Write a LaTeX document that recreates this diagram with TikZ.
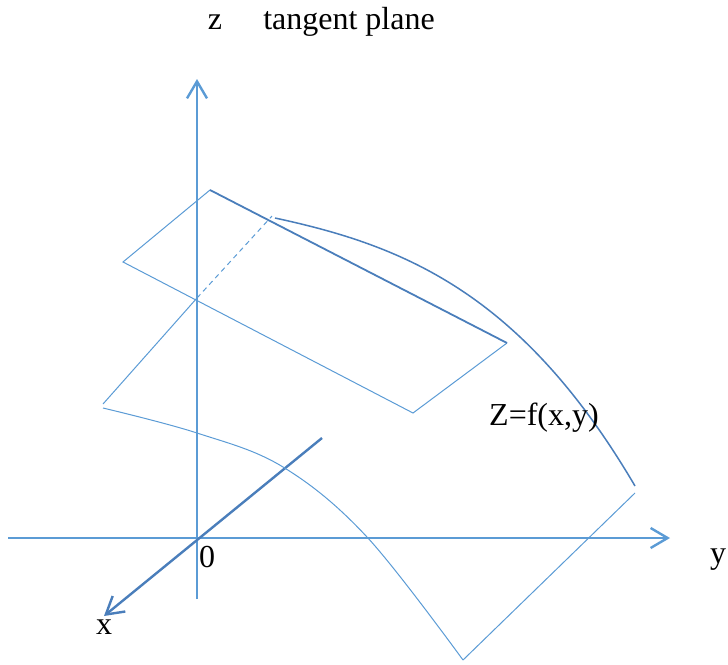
\documentclass[tikz,border=0pt]{standalone}
\usepackage{fontspec}
\setmainfont{Liberation Serif}
\usepackage{xcolor}
\usepackage{tikz}
\usetikzlibrary{arrows.meta, positioning}

\definecolor{axisblue}{HTML}{5B9BD5}
\definecolor{edgeblue}{HTML}{4A7EBB}

\begin{document}
\begin{tikzpicture}[
  x=1pt, y=-1pt,
  axis/.style={draw=axisblue, line width=2.4pt, -{Straight Barb[length=17pt, width=20pt, line width=2.4pt]}},
  xaxis/.style={draw=edgeblue, line width=2.4pt, -{Straight Barb[length=17pt, width=20pt, line width=2.4pt]}},
  thin/.style={draw=axisblue, line width=1pt},
  rim/.style={draw=edgeblue, line width=1.8pt},
  lbl/.style={font=\fontsize{32}{38}\selectfont, inner sep=0pt},
]
  \useasboundingbox (0,0) rectangle (728,664);

  % axes
  \coordinate (O) at (197,538);
  \coordinate (zlow) at (197,599);
  \coordinate (ztop) at (197,79);
  \coordinate (yleft) at (8,538);
  \coordinate (yend) at (670,538);
  \coordinate (xback) at (322,438);
  \coordinate (xend) at (104,616);

  \draw[axis] (zlow) -- (ztop);
  \draw[axis] (yleft) -- (yend);
  \draw[xaxis] (xback) -- (xend);

  % tangent plane
  \coordinate (ptop) at (210,190);
  \coordinate (pleft) at (123,262);
  \coordinate (pbot) at (413,413);
  \coordinate (pright) at (507,343);
  \draw[thin] (ptop) -- (pleft) -- (pbot) -- (pright);
  \draw[rim] (ptop) -- (pright);

  % surface
  \coordinate (sfar) at (272,216);
  \coordinate (scut) at (197,298);
  \coordinate (sleft) at (103,404);
  \coordinate (stop) at (275,218);
  \coordinate (sright) at (635,486);
  \coordinate (sright2) at (635,493);
  \coordinate (sbot) at (463,660);
  \draw[thin, dashed, dash pattern=on 5pt off 4pt] (scut) -- (sfar);
  \draw[thin] (sleft) -- (scut);
  \draw[rim, line width=1.5pt] (stop) .. controls (400,245) and (520,290) .. (sright);
  \draw[thin] plot[smooth, tension=0.6] coordinates {(103,408) (197,433) (283,467) (367,537) (463,660)};
  \draw[thin] (sbot) -- (sright2);

  % labels
  \node[lbl] (zlabel) at (215,22) {z};
  \node[lbl] (planelabel) at (349,22) {tangent plane};
  \node[lbl] (origin) at (207,557) {0};
  \node[lbl] (xlabel) at (104,627) {x};
  \node[lbl] (ylabel) at (718,560) {y};
  \node[lbl] (flabel) at (544,418) {Z=f(x,y)};
\end{tikzpicture}
\end{document}
